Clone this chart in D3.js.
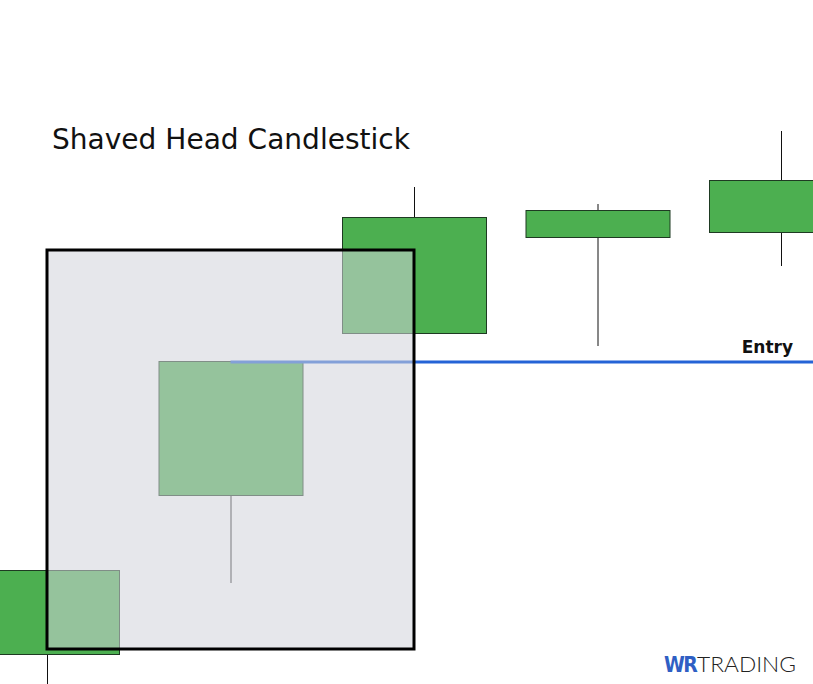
<!DOCTYPE html>
<html><head><meta charset="utf-8">
<script src="https://cdn.jsdelivr.net/npm/d3@7"></script>
<style>html,body{margin:0;padding:0;background:#fff;overflow:hidden}</style>
</head><body>
<svg id="chart" width="813" height="684"></svg>
<script>
// Data (price units)
const categories = ["C1","C2","C3","C4","C5"];
const opens  = [103.0, 118.9, 135.1, 144.7, 145.2];
const closes = [111.4, 132.3, 146.7, 147.4, 150.4];
const highs  = [111.4, 132.3, 149.7, 148.0, 155.3];
const lows   = [ 99.0, 110.1, 135.1, 133.8, 141.8];
const entryLevel = 132.2;
const entryLabel = "Entry";
const highlightFrom = 0, highlightTo = 2;
const highlightPrice = [103.5, 143.4];
const title = "Shaved Head Candlestick";

const svg = d3.select("#chart");
const W = 813, H = 684;
const x = d3.scaleLinear().domain([0, categories.length - 1]).range([47, 781]);
const y = d3.scaleLinear().domain([100, 168.4]).range([H, 0]);
const bodyW = 144;

const candles = categories.map((c, i) => ({c, i, o: opens[i], cl: closes[i], h: highs[i], l: lows[i]}));

// wicks
svg.append("g").selectAll("line").data(candles).join("line")
  .attr("x1", d => x(d.i) + 0.5).attr("x2", d => x(d.i) + 0.5)
  .attr("y1", d => y(d.h)).attr("y2", d => y(d.l))
  .attr("stroke", "#111").attr("stroke-width", 1);

// bodies
svg.append("g").selectAll("rect").data(candles).join("rect")
  .attr("x", d => x(d.i) - bodyW / 2 + 0.5)
  .attr("y", d => y(Math.max(d.o, d.cl)) + 0.5)
  .attr("width", bodyW)
  .attr("height", d => Math.abs(y(d.o) - y(d.cl)))
  .attr("fill", "#4caf50").attr("stroke", "#1e3a22").attr("stroke-width", 1);

// entry line
svg.append("line")
  .attr("x1", x(1)).attr("x2", W)
  .attr("y1", y(entryLevel)).attr("y2", y(entryLevel))
  .attr("stroke", "#2563d6").attr("stroke-width", 3);

svg.append("text").text(entryLabel)
  .attr("x", 793).attr("y", y(entryLevel) - 9)
  .attr("text-anchor", "end")
  .attr("font-family", "DejaVu Sans").attr("font-weight", "bold")
  .attr("font-size", 17).attr("fill", "#111");

// highlight box
const bx0 = x(highlightFrom), bx1 = x(highlightTo);
const by0 = y(highlightPrice[1]), by1 = y(highlightPrice[0]);
svg.append("rect")
  .attr("x", bx0).attr("y", by0).attr("width", bx1 - bx0).attr("height", by1 - by0)
  .attr("fill", "rgb(209,211,218)").attr("fill-opacity", 0.55);
svg.append("rect")
  .attr("x", bx0).attr("y", by0).attr("width", bx1 - bx0).attr("height", by1 - by0)
  .attr("fill", "none").attr("stroke", "#000").attr("stroke-width", 3);

// title
svg.append("text").text(title)
  .attr("x", 52).attr("y", 149)
  .attr("font-family", "DejaVu Sans").attr("font-size", 29).attr("fill", "#111")
  .attr("textLength", 358).attr("lengthAdjust", "spacingAndGlyphs");

// logo (single text element)
const logo = svg.append("text").attr("x", 664).attr("y", 672);
logo.append("tspan").text("WR")
  .attr("font-size", 21)
  .attr("font-family", "DejaVu Sans Condensed, DejaVu Sans").attr("font-weight", "bold")
  .attr("fill", "#2f5fc4").attr("letter-spacing", -1.5);
logo.append("tspan").text("TRADING")
  .attr("x", 697).attr("font-size", 22)
  .attr("font-family", "Lato").attr("font-weight", 300).attr("fill", "#222")
  .attr("textLength", 99).attr("lengthAdjust", "spacingAndGlyphs");
</script>
</body></html>
